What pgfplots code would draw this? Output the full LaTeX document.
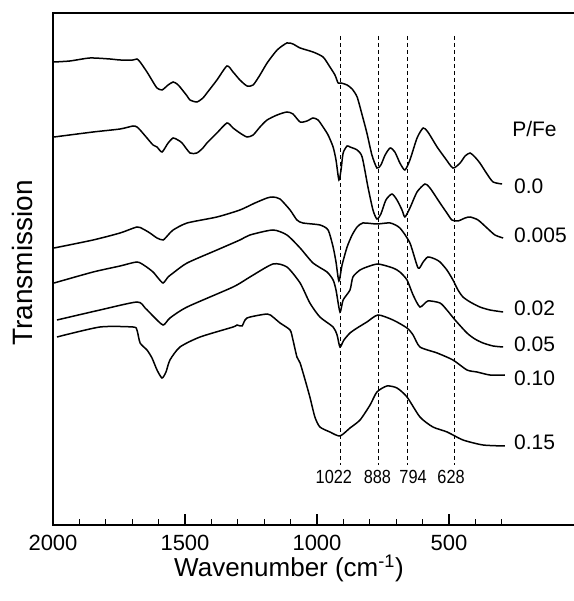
\documentclass[border=0pt]{standalone}
\usepackage{fontspec}
\setmainfont{Liberation Sans}
\usepackage{graphicx}
\usepackage{pgfplots}
\pgfplotsset{compat=1.18}
\begin{document}
\begin{tikzpicture}
\begin{axis}[
  at={(53pt,76pt)}, anchor=south west,
  scale only axis, width=528pt, height=512pt,
  xmin=0, xmax=2000, ymin=0, ymax=512, x dir=reverse,
  ytick=\empty,
  xtick={2000,1500,1000,500},
  minor xtick={1900,1800,1700,1600,1400,1300,1200,1100,900,800,700,600,400,300},
  xtick pos=bottom, tick align=inside,
  major tick length=11pt, minor tick length=6pt,
  tick style={black, line width=1.2pt},
  axis line style={line width=1.3pt},
  /pgf/number format/assume math mode=true,
  /pgf/number format/1000 sep={},
  xticklabel style={font=\fontsize{22}{22}\selectfont, yshift=-7pt},
  every axis plot/.append style={black, line width=1.5pt, no markers},
]
% dashed reference lines
\addplot[black, line width=0.8pt, dash pattern=on 4pt off 3pt] coordinates {(913,489) (913,60)};
\addplot[black, line width=0.8pt, dash pattern=on 4pt off 3pt] coordinates {(769,489) (769,60)};
\addplot[black, line width=0.8pt, dash pattern=on 4pt off 3pt] coordinates {(659,489) (659,60)};
\addplot[black, line width=0.8pt, dash pattern=on 4pt off 3pt] coordinates {(481,489) (481,60)};
% P/Fe = 0.0
\addplot[smooth, tension=0.4] coordinates {
(1996,463) (1936,464) (1860,467) (1784,466) (1746,465) (1697,465) (1682,466) (1670,463)
(1644,453) (1621,443) (1606,437) (1587,435) (1564,440) (1545,443) (1530,441) (1519,438)
(1492,429) (1481,425) (1455,423) (1432,427) (1417,432) (1379,445) (1341,459) (1318,453)
(1292,445) (1265,439) (1242,440) (1216,450) (1189,462) (1151,475) (1114,482) (1091,481)
(1064,477) (1015,473) (977,468) (951,458) (932,450) (920,442) (909,442) (886,440)
(867,436) (848,428) (829,410) (811,392) (792,370) (773,357) (758,360) (742,370)
(723,377) (705,373) (686,362) (667,355) (648,365) (621,387) (598,397) (580,393)
(545,378) (515,367) (485,357) (458,362) (439,369) (420,372) (402,368) (383,362)
(356,351) (333,343) (299,341)};
% P/Fe = 0.005
\addplot[smooth, tension=0.4] coordinates {
(1996,388) (1848,393) (1746,396) (1697,399) (1682,398) (1670,395) (1644,387) (1621,380)
(1606,378) (1587,373) (1564,382) (1545,387) (1527,385) (1511,382) (1481,372) (1455,372)
(1432,377) (1417,382) (1379,392) (1341,402) (1318,397) (1292,392) (1265,388) (1242,390)
(1216,398) (1189,405) (1151,410) (1114,413) (1091,411) (1064,403) (1038,404) (1015,407)
(996,405) (977,398) (958,390) (939,378) (928,365) (917,345) (909,355) (901,372)
(886,379) (875,378) (848,375) (829,368) (807,338) (788,315) (773,306) (758,311)
(739,325) (716,331) (697,325) (678,315) (667,308) (648,317) (621,333) (591,341)
(572,337) (534,322) (508,312) (489,305) (466,304) (439,307) (420,308) (390,305)
(356,297) (326,290) (295,287)};
% P/Fe = 0.02
\addplot[smooth, tension=0.4] coordinates {
(1996,277) (1848,285) (1746,292) (1682,298) (1659,296) (1633,292) (1606,287) (1583,285)
(1564,290) (1545,295) (1492,302) (1379,308) (1292,315) (1235,322) (1189,327) (1167,328)
(1140,326) (1102,315) (1076,305) (1053,302) (989,300) (958,295) (939,278) (928,263)
(917,244) (905,260) (886,278) (867,290) (848,298) (826,302) (773,301) (723,302)
(686,297) (648,282) (617,257) (598,263) (580,268) (553,266) (534,263) (508,255)
(485,245) (466,235) (447,228) (420,223) (383,218) (345,215) (295,213)};
% P/Fe = 0.05
\addplot[smooth, tension=0.4] coordinates {
(1996,242) (1848,253) (1746,259) (1682,263) (1651,259) (1621,253) (1602,247) (1583,242)
(1564,248) (1545,252) (1492,262) (1379,275) (1292,285) (1254,290) (1167,295) (1114,290)
(1064,277) (1015,262) (962,253) (939,245) (928,235) (913,213) (901,225) (875,235)
(864,248) (837,255) (811,258) (769,261) (712,257) (686,253) (659,245) (636,230)
(610,218) (580,224) (534,222) (508,215) (477,205) (432,192) (402,186) (371,182)
(333,179) (295,178)};
% P/Fe = 0.10
\addplot[smooth, tension=0.4] coordinates {
(1985,205) (1822,215) (1682,223) (1651,217) (1621,209) (1583,200) (1557,207) (1492,218)
(1318,238) (1254,248) (1167,261) (1114,258) (1064,242) (1027,222) (989,208) (939,198)
(924,190) (913,178) (898,185) (875,192) (848,197) (811,203) (769,210) (712,205)
(659,197) (636,190) (610,178) (545,172) (485,165) (432,155) (394,153) (345,150)
(288,150)};
% P/Fe = 0.15
\addplot[smooth, tension=0.4] coordinates {
(1985,188) (1822,198) (1697,198) (1682,195) (1670,182) (1644,175) (1625,167) (1606,155)
(1587,147) (1572,153) (1557,165) (1519,178) (1443,188) (1318,198) (1303,200) (1284,199)
(1265,207) (1189,211) (1167,208) (1140,202) (1102,195) (1091,185) (1076,168) (1064,162)
(1045,145) (1027,128) (1008,108) (989,98) (951,93) (913,89) (875,97) (837,105)
(799,120) (773,133) (735,139) (697,137) (659,128) (610,108) (561,98) (507,93)
(447,85) (371,80) (288,79)};
% tick marks on the bottom axis
\begin{scope}[line width=1.2pt]
\draw (axis cs:1500,0) -- ++(0,11pt);
\draw (axis cs:1000,0) -- ++(0,11pt);
\draw (axis cs:500,0) -- ++(0,11pt);
\draw (axis cs:1900,0) -- ++(0,6pt);
\draw (axis cs:1800,0) -- ++(0,6pt);
\draw (axis cs:1700,0) -- ++(0,6pt);
\draw (axis cs:1600,0) -- ++(0,6pt);
\draw (axis cs:1400,0) -- ++(0,6pt);
\draw (axis cs:1300,0) -- ++(0,6pt);
\draw (axis cs:1200,0) -- ++(0,6pt);
\draw (axis cs:1100,0) -- ++(0,6pt);
\draw (axis cs:900,0) -- ++(0,6pt);
\draw (axis cs:800,0) -- ++(0,6pt);
\draw (axis cs:700,0) -- ++(0,6pt);
\draw (axis cs:600,0) -- ++(0,6pt);
\draw (axis cs:400,0) -- ++(0,6pt);
\draw (axis cs:300,0) -- ++(0,6pt);
\end{scope}
% labels
\begin{scope}[every node/.style={font=\fontsize{21}{21}\selectfont, anchor=west, inner sep=0pt}]
\node at (axis cs:261,396) {P/Fe};
\node at (axis cs:254,339) {0.0};
\node at (axis cs:254,290) {0.005};
\node at (axis cs:254,217) {0.02};
\node at (axis cs:254,181) {0.05};
\node at (axis cs:254,147) {0.10};
\node at (axis cs:254,83) {0.15};
\end{scope}
\begin{scope}[every node/.style={font=\fontsize{19}{19}\selectfont, inner sep=0pt}]
\node at (axis cs:936,48) {\scalebox{0.86}[1]{1022}};
\node at (axis cs:771,48) {\scalebox{0.86}[1]{888}};
\node at (axis cs:636,48) {\scalebox{0.86}[1]{794}};
\node at (axis cs:492,48) {\scalebox{0.86}[1]{628}};
\end{scope}
\end{axis}
\draw[line width=1.3pt] (53pt,588pt) -- (573pt,588pt);
\node[font=\fontsize{26}{26}\selectfont, inner sep=0pt, anchor=base] at (289pt,24pt) {Wavenumber (cm\textsuperscript{-1})};
\node[font=\fontsize{28}{28}\selectfont, inner sep=0pt, rotate=90] at (22pt,338pt) {Transmission};
\pgfresetboundingbox
\path[use as bounding box] (0,0) rectangle (573pt,601pt);
\end{tikzpicture}
\end{document}
